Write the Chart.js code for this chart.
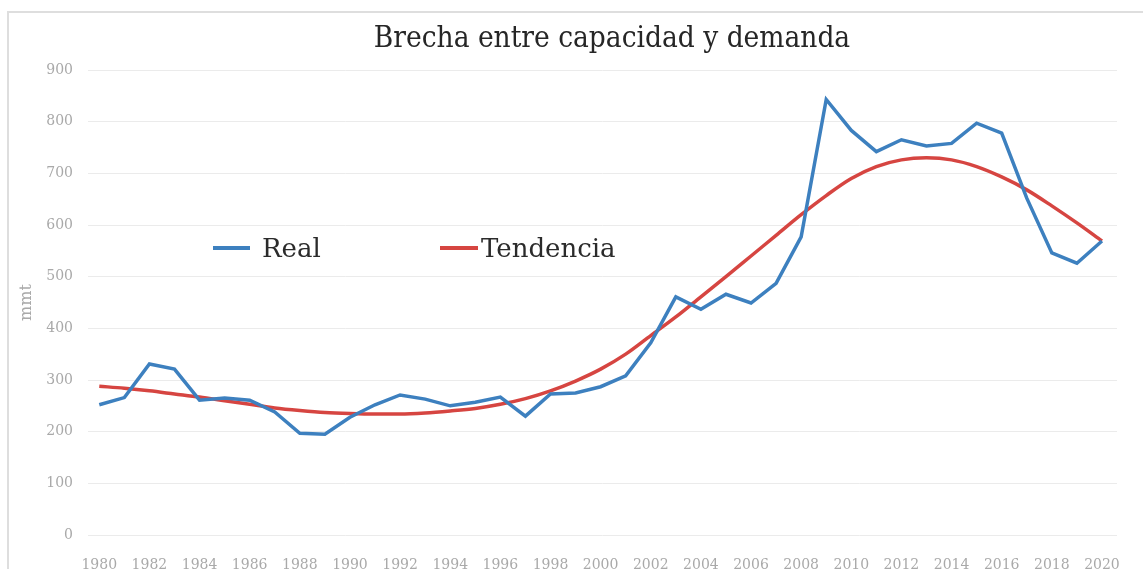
<!DOCTYPE html>
<html>
<head>
<meta charset="utf-8">
<script src="https://cdn.jsdelivr.net/npm/chart.js@4.4.0/dist/chart.umd.min.js"></script>
<style>
  html, body { margin: 0; padding: 0; background: #fff; }
  #wrap { position: relative; width: 1143px; height: 569px; overflow: hidden; }
  #frame { position: absolute; left: 7px; top: 11px; right: -10px; bottom: -10px;
           border-top: 2px solid #dedede; border-left: 2px solid #dedede; pointer-events: none; }
  canvas { position: absolute; left: 0; top: 0; }
  #title { position: absolute; left: 0; width: 1224px; top: 20px; text-align: center;
           font-family: "DejaVu Serif Condensed", serif; font-size: 29.5px; color: #262626; white-space: nowrap; }
  .leg { position: absolute; display: flex; align-items: center; font-family: "DejaVu Serif", serif;
         font-size: 26px; color: #2b2b2b; white-space: nowrap; }
  .leg .sw { display: inline-block; height: 4px; }
</style>
</head>
<body>
<div id="wrap">
  <canvas id="c" width="1143" height="569"></canvas>
  <div id="frame"></div>
  <div id="title"></div>
  <div id="legend"></div>
</div>
<script>
// ---- data ----
const years = [1980,1981,1982,1983,1984,1985,1986,1987,1988,1989,1990,1991,1992,1993,1994,1995,1996,1997,1998,1999,2000,2001,2002,2003,2004,2005,2006,2007,2008,2009,2010,2011,2012,2013,2014,2015,2016,2017,2018,2019,2020];
const realValues = [252,266,331,321,261,265,261,238,197,195,228,252,271,263,250,257,267,230,273,275,287,308,372,461,437,466,449,487,577,843,783,742,765,753,758,797,778,652,546,526,569];
const trendValues = [288,284,279,273,267,260,253,246,241,237,235,234,234,236,240,245,253,264,279,298,321,350,386,422,461,500,540,580,620,657,690,713,726,730,726,713,693,668,637,604,569];
const yTicks = [0,100,200,300,400,500,600,700,800,900];
const xTicks = [1980,1982,1984,1986,1988,1990,1992,1994,1996,1998,2000,2002,2004,2006,2008,2010,2012,2014,2016,2018,2020];
const seriesNames = ["Real", "Tendencia"];
const seriesColors = ["#3d80bf", "#d64541"];
const titleText = "Brecha entre capacidad y demanda";
const yTitle = "mmt";

const tickFont = { family: "DejaVu Serif", size: 14 };
const tickColor = "#a9a9a9";

document.getElementById('title').textContent = titleText;

const chart = new Chart(document.getElementById('c'), {
  type: 'line',
  data: {
    datasets: [
      { label: seriesNames[0], data: years.map((y,i)=>({x:y, y:realValues[i]})),
        borderColor: seriesColors[0], borderWidth: 3.5, pointRadius: 0, tension: 0, fill: false },
      { label: seriesNames[1], data: years.map((y,i)=>({x:y, y:trendValues[i]})),
        borderColor: seriesColors[1], borderWidth: 3.5, pointRadius: 0, tension: 0.4, cubicInterpolationMode: 'monotone', fill: false }
    ]
  },
  options: {
    responsive: false,
    animation: false,
    layout: { padding: { left: 0, right: 26, top: 70, bottom: 0 } },
    plugins: {
      legend: { display: false },
      tooltip: { enabled: false },
      title: { display: false }
    },
    scales: {
      x: {
        type: 'linear', min: 1979.55, max: 2020.6,
        grid: { display: false }, border: { display: false },
        afterBuildTicks: s => { s.ticks = xTicks.map(v => ({ value: v })); },
        afterFit: s => { s.height = 34; },
        ticks: { font: tickFont, color: tickColor, padding: 14, maxRotation: 0, autoSkip: false,
                 callback: v => String(v) }
      },
      y: {
        min: 0, max: 900,
        afterBuildTicks: s => { s.ticks = yTicks.map(v => ({ value: v })); },
        afterFit: s => { s.width = 88; },
        grid: { color: '#ebebeb', lineWidth: 1, drawTicks: false },
        border: { display: false },
        ticks: { font: tickFont, color: tickColor, padding: 15, callback: v => String(v) },
        title: { display: true, text: yTitle, color: tickColor,
                 font: { family: "DejaVu Serif", size: 16 }, padding: { top: 17, bottom: 0 } }
      }
    }
  }
});

// HTML legend built from datasets
const legendPos = [ { left: 213, sw: 37, gap: 12 }, { left: 440, sw: 38, gap: 3 } ];
const legEl = document.getElementById('legend');
chart.data.datasets.forEach((ds, i) => {
  const d = document.createElement('div');
  d.className = 'leg';
  d.style.left = legendPos[i].left + 'px';
  d.style.top = '233px';
  const sw = document.createElement('span');
  sw.className = 'sw';
  sw.style.width = legendPos[i].sw + 'px';
  sw.style.background = ds.borderColor;
  sw.style.marginRight = legendPos[i].gap + 'px';
  const t = document.createElement('span');
  t.textContent = ds.label;
  d.appendChild(sw); d.appendChild(t);
  legEl.appendChild(d);
});
</script>
</body>
</html>
